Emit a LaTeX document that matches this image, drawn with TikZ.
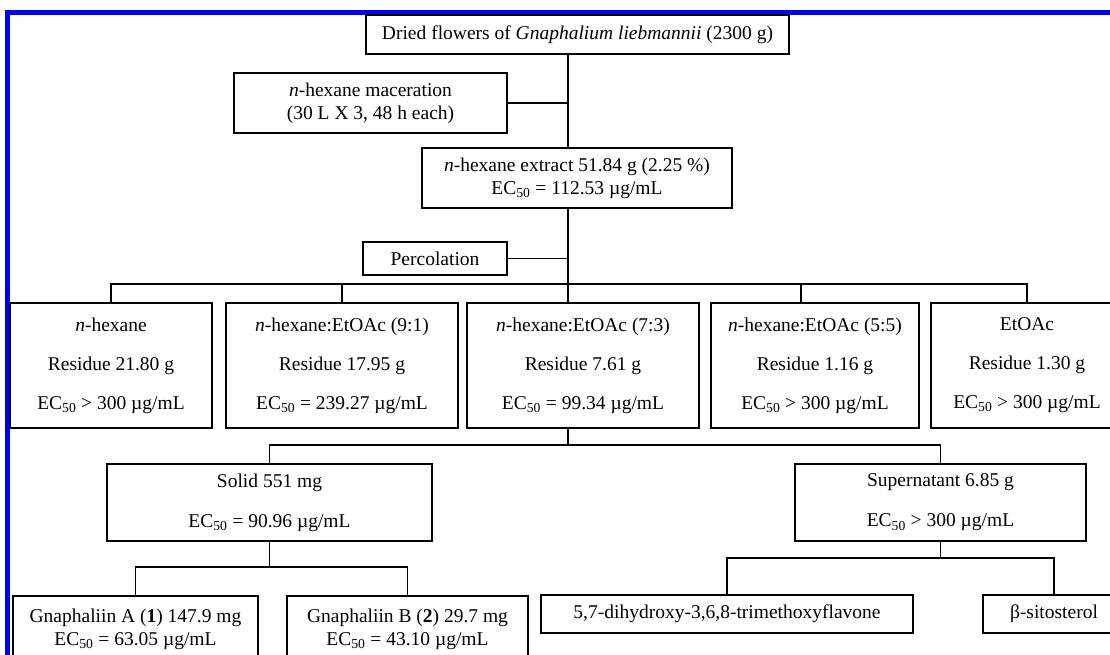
\documentclass[tikz,border=0pt]{standalone}
\usepackage{fontspec}
\setmainfont{Liberation Serif}
\usetikzlibrary{positioning}
\definecolor{frameblue}{RGB}{0,0,250}

\begin{document}
\begin{tikzpicture}[x=1pt, y=-1pt,
	box/.style={draw, line width=1.6pt, inner sep=0pt, align=center, font=\fontsize{19.5}{23}\selectfont},
	fracbox/.style={box, font=\fontsize{19.5}{39}\selectfont},
	link/.style={line width=1.2pt}]
	\useasboundingbox (0,0) rectangle (1110,654);
	\clip (0,0) rectangle (1110,654);
	\draw[frameblue, line width=5pt] (7.5,700) -- (7.5,12.5) -- (1150,12.5);

	\coordinate (trunk) at (568,0);
	\coordinate (busa) at (0,284);
	\coordinate (busb) at (0,445);
	\coordinate (busc) at (0,567);
	\coordinate (busd) at (0,558);

	\node at (577.5,34.5) (dried) [box, minimum width=423, minimum height=39] {Dried flowers of \textit{Gnaphalium liebmannii} (2300 g)};
	\node at (370.5,103) (macer) [box, minimum width=273, minimum height=60] {\textit{n}-hexane maceration\\(30 L X 3, 48 h each)};
	\node at (577,178) (extract) [box, minimum width=310, minimum height=60] {\textit{n}-hexane extract 51.84 g (2.25 \%)\\EC\textsubscript{50} = 112.53 µg/mL};
	\node at (435,258.5) (percol) [box, minimum width=144, minimum height=33] {Percolation};

	\node at (111,365.5) (hex) [fracbox, minimum width=202, minimum height=125] {\textit{n}-hexane\\Residue 21.80 g\\EC\textsubscript{50} > 300 µg/mL};
	\node at (342,365.5) (hexea) [fracbox, minimum width=232, minimum height=125] {\textit{n}-hexane:EtOAc (9:1)\\Residue 17.95 g\\EC\textsubscript{50} = 239.27 µg/mL};
	\node at (583,365.5) (hexeb) [fracbox, minimum width=232, minimum height=125] {\textit{n}-hexane:EtOAc (7:3)\\Residue 7.61 g\\EC\textsubscript{50} = 99.34 µg/mL};
	\node at (815,365.5) (hexec) [fracbox, minimum width=208, minimum height=125] {\textit{n}-hexane:EtOAc (5:5)\\Residue 1.16 g\\EC\textsubscript{50} > 300 µg/mL};
	\node at (1027,365.5) (etoac) [fracbox, minimum width=192, minimum height=125] {EtOAc\\Residue 1.30 g\\EC\textsubscript{50} > 300 µg/mL};

	\node at (269.5,502.5) (solid) [box, font=\fontsize{19.5}{40}\selectfont, minimum width=325, minimum height=77] {Solid 551 mg\\EC\textsubscript{50} = 90.96 µg/mL};
	\node at (940.5,502.5) (super) [box, font=\fontsize{19.5}{40}\selectfont, minimum width=291, minimum height=77] {Supernatant 6.85 g\\EC\textsubscript{50} > 300 µg/mL};

	\node at (135.5,629) (gnapa) [box, minimum width=245, minimum height=66] {Gnaphaliin A (\textbf{1}) 147.9 mg\\EC\textsubscript{50} = 63.05 µg/mL};
	\node at (407.5,629) (gnapb) [box, minimum width=241, minimum height=66] {Gnaphaliin B (\textbf{2}) 29.7 mg\\EC\textsubscript{50} = 43.10 µg/mL};
	\node at (727,614) (flavone) [box, minimum width=372, minimum height=38] {5,7-dihydroxy-3,6,8-trimethoxyflavone};
	\node at (1054,614) (sitost) [box, minimum width=142, minimum height=38] {β-sitosterol};

	\draw[link] (dried.south -| trunk) -- (extract.north -| trunk);
	\draw[link] (macer.east) -- (macer.east -| trunk);
	\draw[link] (extract.south -| trunk) -- (hexeb.north -| trunk);
	\draw[link] (percol.east) -- (percol.east -| trunk);

	\draw[link] (hex.north) |- (etoac.north |- busa) -- (etoac.north);
	\draw[link] (hexea.north) -- (hexea.north |- busa);
	\draw[link] ([xshift=-14]hexec.north) -- ([xshift=-14]hexec.north |- busa);

	\draw[link] (hexeb.south -| trunk) -- (trunk |- busb);
	\draw[link] (solid.north) |- (super.north |- busb) -- (super.north);

	\draw[link] (solid.south) -- (solid.south |- busc);
	\draw[link] (gnapa.north) |- (gnapb.north |- busc) -- (gnapb.north);
	\draw[link] (super.south) -- (super.south |- busd);
	\draw[link] (flavone.north) |- (sitost.north |- busd) -- (sitost.north);
\end{tikzpicture}
\end{document}
